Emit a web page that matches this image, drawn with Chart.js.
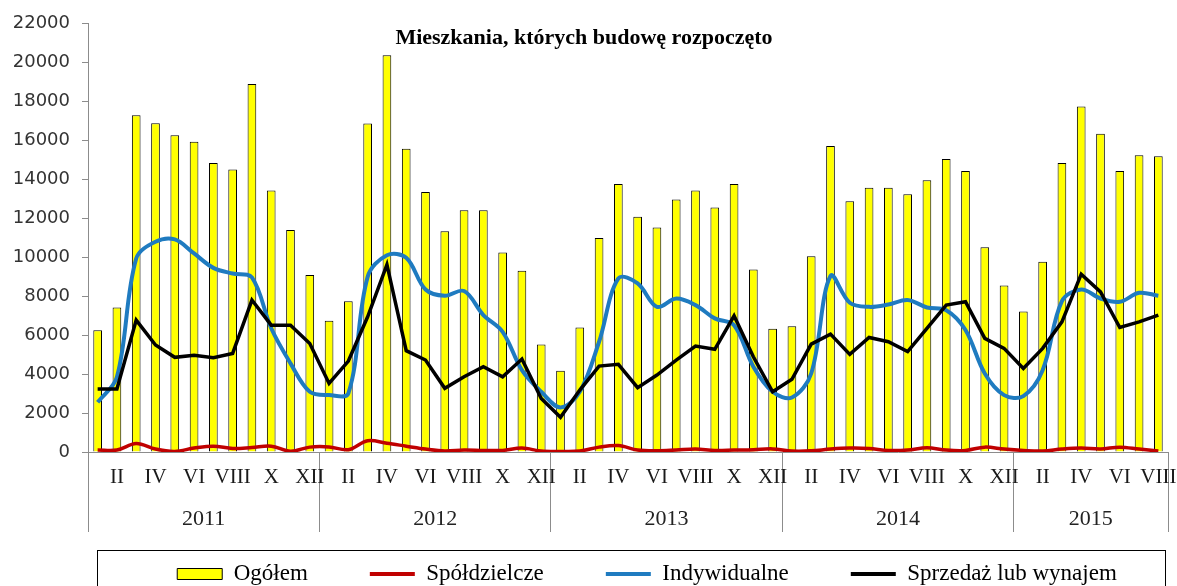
<!DOCTYPE html>
<html><head><meta charset="utf-8">
<script src="https://cdn.jsdelivr.net/npm/chart.js@4.4.1/dist/chart.umd.min.js"></script>
<style>html,body{margin:0;padding:0;background:#fff;overflow:hidden}#wrap{position:relative;width:1177px;height:586px}</style>
</head><body><div id="wrap"><canvas id="c"></canvas></div>
<script>
const chartTitle = 'Mieszkania, których budowę rozpoczęto';
const months = ['I','II','III','IV','V','VI','VII','VIII','IX','X','XI','XII'];
const years = ['2011','2012','2013','2014','2015'];
const monthsPerYear = [12,12,12,12,8];
const seriesNames = ['Ogółem','Spółdzielcze','Indywidualne','Sprzedaż lub wynajem'];

const ogolem = [
  6250, 7420, 17280, 16870, 16260, 15920, 14840, 14500, 18890, 13420, 11400, 9090,
  6740, 7740, 16860, 20360, 15570, 13350, 11330, 12410, 12410, 10240, 9300, 5520,
  4170, 6390, 10990, 13760, 12070, 11520, 12960, 13420, 12550, 13760, 9370, 6330,
  6460, 10050, 15710, 12870, 13560, 13560, 13230, 13950, 15040, 14430, 10510, 8550,
  7210, 9760, 14840, 17740, 16330, 14430, 15230, 15180
];
const spoldzielcze = [
  100, 100, 430, 150, 30, 200, 300, 180, 230, 300, 40, 250,
  260, 120, 580, 450, 300, 150, 50, 100, 80, 80, 200, 50,
  30, 50, 250, 330, 100, 60, 100, 150, 80, 100, 120, 160,
  50, 60, 150, 200, 180, 80, 100, 220, 100, 80, 250, 150,
  80, 50, 150, 200, 150, 250, 150, 50
];
const indywidualne = [
  2550, 3850, 9930, 10790, 10910, 10190, 9450, 9160, 8960, 6350, 4550, 3090,
  2920, 3010, 8990, 10100, 9970, 8340, 8020, 8260, 7030, 6170, 4200, 3090,
  2290, 3090, 5660, 8910, 8650, 7450, 7880, 7540, 6860, 6510, 4380, 3090,
  2800, 4030, 9030, 7660, 7450, 7570, 7800, 7420, 7280, 6260, 4030, 2920,
  2870, 4200, 7740, 8340, 7880, 7710, 8170, 8020
];
const sprzedaz = [
  3230, 3230, 6770, 5490, 4860, 4970, 4840, 5060, 7800, 6510, 6510, 5570,
  3520, 4670, 6940, 9620, 5200, 4720, 3270, 3860, 4380, 3860, 4770, 2750,
  1780, 3180, 4410, 4500, 3300, 3950, 4720, 5440, 5270, 6990, 4890, 3090,
  3730, 5540, 6050, 5010, 5880, 5660, 5150, 6340, 7540, 7710, 5830, 5320,
  4290, 5320, 6680, 9130, 8220, 6390, 6680, 7030
];

// categories built from months/years
const categories = [];
const monthIndex = [];
const yearStarts = [];
const yearCenters = [];
years.forEach((y, yi) => {
  const start = categories.length;
  yearStarts.push(start);
  yearCenters.push(start + (monthsPerYear[yi] - 1) / 2);
  for (let m = 0; m < monthsPerYear[yi]; m++) { categories.push(months[m] + ' ' + y); monthIndex.push(m); }
});

const SERIF = '"Liberation Serif", "Times New Roman", serif';

const legendFrame = {
  id: 'legendFrame',
  afterLayout(chart) {
    const l = chart.legend;
    if (l) { l.left += 63; l.right += 63; l.top -= 44.5; l.height = l.bottom - l.top; }
  },
  afterDraw(chart) {
    const ctx = chart.ctx; ctx.save();
    ctx.strokeStyle = '#000'; ctx.lineWidth = 1;
    ctx.strokeRect(97.5, 550.5, 1068, 60);
    ctx.restore();
  }
};

new Chart(document.getElementById('c'), {
  data: {
    labels: categories,
    datasets: [
      { type: 'bar', label: seriesNames[0], data: ogolem, backgroundColor: '#ffff00', borderColor: '#000', borderWidth: 1,
        barPercentage: 0.45, categoryPercentage: 1.0, order: 4, xAxisID: 'x', yAxisID: 'y' },
      { type: 'line', label: seriesNames[1], data: spoldzielcze, borderColor: '#c00000', backgroundColor: '#c00000', borderWidth: 3.5,
        pointRadius: 0, tension: 0.35, order: 2, xAxisID: 'x', yAxisID: 'y' },
      { type: 'line', label: seriesNames[2], data: indywidualne, borderColor: '#1f7bc0', backgroundColor: '#1f7bc0', borderWidth: 4,
        pointRadius: 0, tension: 0.35, order: 3, xAxisID: 'x', yAxisID: 'y' },
      { type: 'line', label: seriesNames[3], data: sprzedaz, borderColor: '#000', backgroundColor: '#000', borderWidth: 3.5,
        pointRadius: 0, tension: 0, order: 1, xAxisID: 'x', yAxisID: 'y' }
    ]
  },
  options: {
    responsive: true, maintainAspectRatio: false, animation: false,
    layout: { padding: { top: 23, left: 0, right: 9, bottom: 0 } },
    plugins: {
      tooltip: { enabled: false },
      title: { display: true, text: chartTitle, color: '#000',
        font: { family: SERIF, size: 22, weight: 'bold' },
        padding: { top: 2, bottom: -28 } },
      legend: {
        position: 'bottom', maxHeight: 41,
        labels: {
          padding: 62, usePointStyle: true, pointStyleWidth: 45, boxWidth: 45, boxHeight: 11,
          color: '#000', font: { family: SERIF, size: 23 },
          generateLabels: (chart) => chart.data.datasets.map((ds, i) => ({
            text: ds.label, datasetIndex: i, hidden: false, fontColor: '#000',
            fillStyle: ds.type === 'bar' ? ds.backgroundColor : ds.borderColor,
            strokeStyle: ds.borderColor,
            lineWidth: ds.type === 'bar' ? 1 : 4,
            pointStyle: ds.type === 'bar' ? 'rect' : 'line'
          }))
        }
      }
    },
    scales: {
      x: {
        type: 'category', position: 'bottom', offset: true, weight: 0,
        grid: { offset: true, drawOnChartArea: false, drawTicks: true, tickLength: 80, lineWidth: 1,
          color: (c) => (c.index === undefined || yearStarts.includes(c.index)) ? '#8c8c8c' : 'rgba(0,0,0,0)' },
        border: { display: true, color: '#8c8c8c', width: 1 },
        ticks: { autoSkip: false, maxRotation: 0, minRotation: 0, padding: -67, color: '#1a1a1a',
          font: { family: SERIF, size: 21 },
          callback: (v, i) => (monthIndex[i] % 2 === 1) ? months[monthIndex[i]] : '' },
        afterFit: (s) => { s.height = 48; }
      },
      x2: {
        type: 'linear', position: 'bottom', weight: 1, min: -0.5, max: categories.length - 0.5,
        grid: { display: false, drawTicks: false }, border: { display: false },
        afterBuildTicks: (s) => { s.ticks = yearCenters.map(v => ({ value: v })); },
        ticks: { autoSkip: false, maxRotation: 0, padding: 6, color: '#222',
          font: { family: SERIF, size: 22 }, callback: (v, i) => years[i] },
        afterFit: (s) => { s.height = 45; }
      },
      y: {
        type: 'linear', position: 'left', min: 0, max: 22000,
        grid: { drawOnChartArea: false, drawTicks: true, tickLength: 6, color: '#8c8c8c' },
        border: { display: true, color: '#8c8c8c', width: 1 },
        ticks: { stepSize: 2000, padding: 12, color: '#333', font: { family: '"DejaVu Sans", Verdana, sans-serif', size: 18 },
          callback: (v) => String(v) },
        afterFit: (s) => { s.width = 88; }
      }
    }
  },
  plugins: [legendFrame]
});
</script></body></html>
